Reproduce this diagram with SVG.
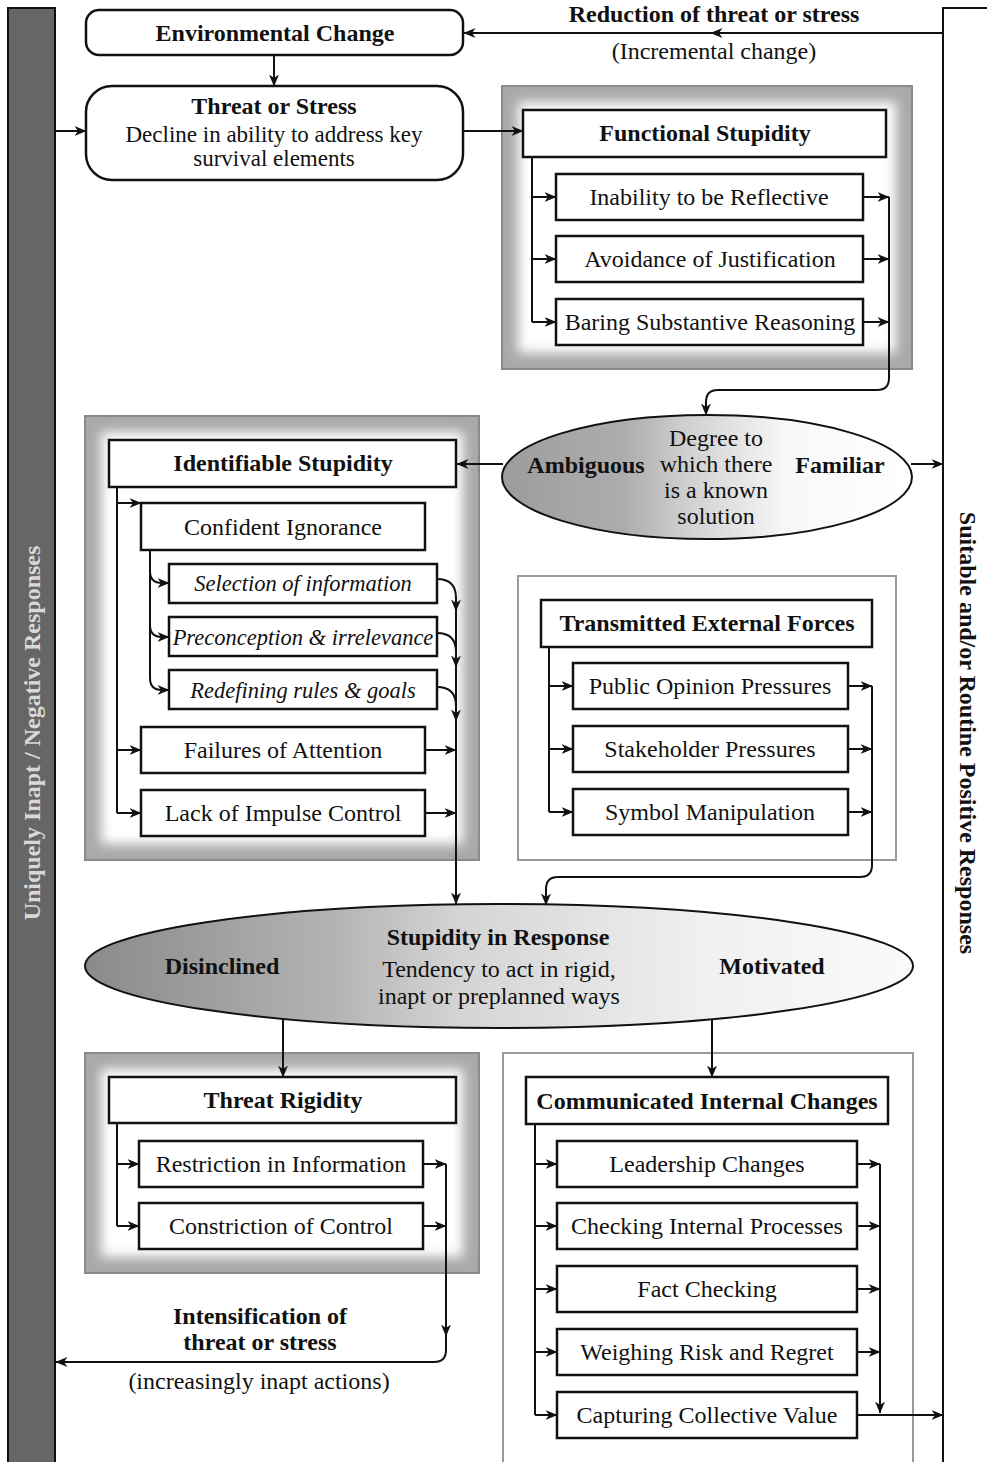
<svg xmlns="http://www.w3.org/2000/svg" width="987" height="1462" viewBox="0 0 987 1462">
<defs>
<style>
text{font-family:"Liberation Serif","Times New Roman",serif;font-size:24px;fill:#111;text-anchor:middle}
.b{font-weight:bold}
.i{font-style:italic;font-size:22.5px}
.s{font-size:23px}
.box{fill:#fff;stroke:#111;stroke-width:2.5}
.frame{fill:#a9a9a9;stroke:#8a8a8a;stroke-width:2}
.plain{fill:#fff;stroke:#9a9a9a;stroke-width:2}
.c{fill:none;stroke:#111;stroke-width:2}
.a{fill:none;stroke:#111;stroke-width:2;marker-end:url(#ah)}
</style>
<marker id="ah" viewBox="0 0 12 10" refX="11.5" refY="5" markerWidth="12" markerHeight="10" orient="auto" markerUnits="userSpaceOnUse"><path d="M0,0 L12,5 L0,10 L3.5,5 z" fill="#111"/></marker>
<filter id="glow" x="-10%" y="-10%" width="120%" height="120%"><feGaussianBlur stdDeviation="6"/></filter>
<linearGradient id="g1" x1="0" y1="0" x2="1" y2="0">
<stop offset="0" stop-color="#9c9c9c"/><stop offset="0.3" stop-color="#adadad"/><stop offset="0.45" stop-color="#d0d0d0"/><stop offset="0.7" stop-color="#f8f8f8"/><stop offset="1" stop-color="#fff"/>
</linearGradient>
<linearGradient id="g2" x1="0" y1="0" x2="1" y2="0">
<stop offset="0" stop-color="#8a8a8a"/><stop offset="0.3" stop-color="#b3b3b3"/><stop offset="0.45" stop-color="#d4d4d4"/><stop offset="0.75" stop-color="#f0f0f0"/><stop offset="1" stop-color="#fafafa"/>
</linearGradient>
</defs>
<rect width="987" height="1462" fill="#fff"/>

<g id="left-bar">
<rect x="8" y="8" width="47" height="1470" fill="#666" stroke="#111" stroke-width="2"/>
<text class="b" transform="translate(40,733) rotate(-90)" style="fill:#d8d8d8">Uniquely Inapt / Negative Responses</text>
</g>
<g id="right-bar">
<rect x="943" y="8" width="60" height="1470" fill="#fff" stroke="#111" stroke-width="2"/>
<text class="b" transform="translate(960,733) rotate(90)">Suitable and/or Routine Positive Responses</text>
</g>

<g id="env-change">
<rect class="box" x="86" y="10" width="377" height="45" rx="13"/>
<text class="b" x="275" y="41">Environmental Change</text>
</g>
<g id="threat-stress">
<rect class="box" x="86" y="86" width="377" height="94" rx="26"/>
<text class="b" x="274" y="114">Threat or Stress</text>
<text class="s" x="274" y="142">Decline in ability to address key</text>
<text class="s" x="274" y="166">survival elements</text>
</g>
<g id="reduction-label">
<text class="b" x="714" y="22">Reduction of threat or stress</text>
<text x="714" y="59">(Incremental change)</text>
</g>

<g id="functional-stupidity">
<rect class="frame" x="502" y="86" width="410" height="283"/>
<rect x="518" y="102" width="378" height="251" fill="#fff" filter="url(#glow)"/>
<rect x="502" y="86" width="410" height="283" fill="none" stroke="#8a8a8a" stroke-width="2"/>
<rect class="box" x="523" y="110" width="363" height="47"/>
<text class="b" x="705" y="141">Functional Stupidity</text>
<rect class="box" x="556" y="174" width="307" height="46"/>
<text x="709" y="205">Inability to be Reflective</text>
<rect class="box" x="556" y="236" width="307" height="46"/>
<text x="710" y="267">Avoidance of Justification</text>
<rect class="box" x="556" y="299" width="307" height="46"/>
<text x="710" y="330">Baring Substantive Reasoning</text>
</g>

<g id="known-solution">
<ellipse cx="707" cy="477" rx="205" ry="62" fill="url(#g1)" stroke="#111" stroke-width="2"/>
<text class="b" x="586" y="473">Ambiguous</text>
<text class="b" x="840" y="473">Familiar</text>
<text x="716" y="446">Degree to</text>
<text x="716" y="472">which there</text>
<text x="716" y="498">is a known</text>
<text x="716" y="524">solution</text>
</g>

<g id="identifiable-stupidity">
<rect class="frame" x="85" y="416" width="394" height="444"/>
<rect x="101" y="432" width="362" height="412" fill="#fff" filter="url(#glow)"/>
<rect x="85" y="416" width="394" height="444" fill="none" stroke="#8a8a8a" stroke-width="2"/>
<rect class="box" x="109" y="440" width="347" height="47"/>
<text class="b" x="283" y="471">Identifiable Stupidity</text>
<rect class="box" x="141" y="503" width="284" height="47"/>
<text x="283" y="535">Confident Ignorance</text>
<rect class="box" x="169" y="564" width="268" height="39"/>
<text class="i" x="303" y="591">Selection of information</text>
<rect class="box" x="169" y="617" width="268" height="39"/>
<text class="i" x="303" y="645">Preconception &amp; irrelevance</text>
<rect class="box" x="169" y="670" width="268" height="39"/>
<text class="i" x="303" y="698">Redefining rules &amp; goals</text>
<rect class="box" x="141" y="727" width="284" height="46"/>
<text x="283" y="758">Failures of Attention</text>
<rect class="box" x="141" y="790" width="284" height="46"/>
<text x="283" y="821">Lack of Impulse Control</text>
</g>

<g id="transmitted-forces">
<rect class="plain" x="518" y="576" width="378" height="284"/>
<rect class="box" x="541" y="600" width="331" height="47"/>
<text class="b" x="707" y="631">Transmitted External Forces</text>
<rect class="box" x="573" y="663" width="275" height="46"/>
<text x="710" y="694">Public Opinion Pressures</text>
<rect class="box" x="573" y="726" width="275" height="46"/>
<text x="710" y="757">Stakeholder Pressures</text>
<rect class="box" x="573" y="789" width="275" height="46"/>
<text x="710" y="820">Symbol Manipulation</text>
</g>

<g id="stupidity-response">
<ellipse cx="499" cy="966" rx="414" ry="62" fill="url(#g2)" stroke="#111" stroke-width="2"/>
<text class="b" x="222" y="974">Disinclined</text>
<text class="b" x="772" y="974">Motivated</text>
<text class="b" x="498" y="945">Stupidity in Response</text>
<text x="499" y="977">Tendency to act in rigid,</text>
<text x="499" y="1004">inapt or preplanned ways</text>
</g>

<g id="threat-rigidity">
<rect class="frame" x="85" y="1053" width="394" height="220"/>
<rect x="101" y="1069" width="362" height="188" fill="#fff" filter="url(#glow)"/>
<rect x="85" y="1053" width="394" height="220" fill="none" stroke="#8a8a8a" stroke-width="2"/>
<rect class="box" x="109" y="1077" width="347" height="46"/>
<text class="b" x="283" y="1108">Threat Rigidity</text>
<rect class="box" x="139" y="1141" width="284" height="46"/>
<text x="281" y="1172">Restriction in Information</text>
<rect class="box" x="139" y="1203" width="284" height="46"/>
<text x="281" y="1234">Constriction of Control</text>
</g>
<g id="intensification-label">
<text class="b" x="260" y="1324">Intensification of</text>
<text class="b" x="260" y="1350">threat or stress</text>
<text x="259" y="1389">(increasingly inapt actions)</text>
</g>

<g id="communicated-changes">
<rect class="plain" x="503" y="1053" width="410" height="420"/>
<rect class="box" x="526" y="1077" width="362" height="47"/>
<text class="b" x="707" y="1109">Communicated Internal Changes</text>
<rect class="box" x="557" y="1141" width="300" height="46"/>
<text x="707" y="1172">Leadership Changes</text>
<rect class="box" x="557" y="1203" width="300" height="46"/>
<text x="707" y="1234">Checking Internal Processes</text>
<rect class="box" x="557" y="1266" width="300" height="46"/>
<text x="707" y="1297">Fact Checking</text>
<rect class="box" x="557" y="1329" width="300" height="46"/>
<text x="707" y="1360">Weighing Risk and Regret</text>
<rect class="box" x="557" y="1392" width="300" height="46"/>
<text x="707" y="1423">Capturing Collective Value</text>
</g>

<g id="connectors">
<path class="a" d="M943,33 H711"/>
<path class="a" d="M711,33 H464"/>
<path class="a" d="M274,55 V86"/>
<path class="a" d="M55,131 H86"/>
<path class="a" d="M463,131 H523"/>
<path class="c" d="M532,157 V322"/>
<path class="a" d="M532,197 H556"/>
<path class="a" d="M532,259 H556"/>
<path class="a" d="M532,322 H556"/>
<path class="a" d="M863,197 H889"/>
<path class="a" d="M863,259 H889"/>
<path class="a" d="M863,322 H889"/>
<path class="a" d="M889,197 V378 Q889,390 877,390 H718 Q706,390 706,402 V415"/>
<path class="a" d="M503,464 H457"/>
<path class="a" d="M911,464 H943"/>
<path class="c" d="M117,487 V813"/>
<path class="a" d="M117,503 H141"/>
<path class="a" d="M117,750 H141"/>
<path class="a" d="M117,813 H141"/>
<path class="c" d="M150,550 V678"/>
<path class="a" d="M150,571 Q150,583 162,583 H169"/>
<path class="a" d="M150,625 Q150,637 162,637 H169"/>
<path class="a" d="M150,678 Q150,690 162,690 H169"/>
<path class="a" d="M437,579 Q456,579 456,598 V611"/>
<path class="a" d="M437,633 Q456,633 456,652 V667"/>
<path class="a" d="M437,687 Q456,687 456,706 V721"/>
<path class="a" d="M456,598 V904"/>
<path class="a" d="M425,750 H456"/>
<path class="a" d="M425,813 H456"/>
<path class="c" d="M549,647 V812"/>
<path class="a" d="M549,686 H573"/>
<path class="a" d="M549,749 H573"/>
<path class="a" d="M549,812 H573"/>
<path class="a" d="M848,686 H872"/>
<path class="a" d="M848,749 H872"/>
<path class="a" d="M848,812 H872"/>
<path class="a" d="M872,686 V865 Q872,877 860,877 H558 Q546,877 546,889 V905"/>
<path class="a" d="M283,1019 V1077"/>
<path class="a" d="M712,1019 V1077"/>
<path class="c" d="M117,1123 V1226"/>
<path class="a" d="M117,1164 H139"/>
<path class="a" d="M117,1226 H139"/>
<path class="a" d="M423,1164 H446"/>
<path class="a" d="M423,1226 H446"/>
<path class="a" d="M446,1164 V1336"/>
<path class="a" d="M446,1334 V1350 Q446,1362 434,1362 H56"/>
<path class="c" d="M535,1124 V1415"/>
<path class="a" d="M535,1164 H557"/>
<path class="a" d="M535,1226 H557"/>
<path class="a" d="M535,1289 H557"/>
<path class="a" d="M535,1352 H557"/>
<path class="a" d="M535,1415 H557"/>
<path class="a" d="M857,1164 H880"/>
<path class="a" d="M857,1226 H880"/>
<path class="a" d="M857,1289 H880"/>
<path class="a" d="M857,1352 H880"/>
<path class="a" d="M880,1164 V1413"/>
<path class="a" d="M857,1415 H943"/>
</g>
</svg>
